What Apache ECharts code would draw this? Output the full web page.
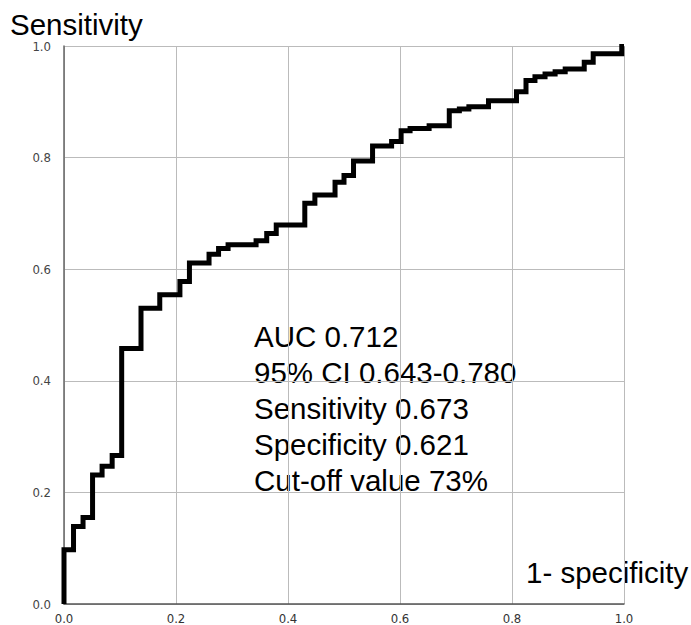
<!DOCTYPE html>
<html><head><meta charset="utf-8">
<script src="https://cdn.jsdelivr.net/npm/echarts@6/dist/echarts.min.js"></script>
<style>html,body{margin:0;padding:0;background:#fff}#c{width:691px;height:625px}</style>
</head><body><div id="c"></div>
<script>
// ROC curve vertices (1 - specificity, sensitivity), drawn as a step line
const fpr = [0, 0, 0.017, 0.034, 0.051, 0.068, 0.086, 0.103, 0.1375, 0.171, 0.207, 0.224, 0.259, 0.276, 0.293,
  0.343, 0.362, 0.379, 0.430, 0.448, 0.484, 0.500, 0.517, 0.551, 0.585, 0.602, 0.618, 0.652, 0.688, 0.706,
  0.723, 0.758, 0.808, 0.825, 0.841, 0.859, 0.877, 0.895, 0.929, 0.945, 0.996, 1.0];
const tpr = [0, 0.097, 0.139, 0.155, 0.231, 0.247, 0.266, 0.458, 0.530, 0.554, 0.578, 0.611, 0.627, 0.637, 0.644,
  0.651, 0.664, 0.679, 0.718, 0.733, 0.756, 0.768, 0.794, 0.821, 0.829, 0.848, 0.852, 0.857, 0.884, 0.887,
  0.891, 0.902, 0.918, 0.938, 0.945, 0.950, 0.954, 0.959, 0.971, 0.986, 0.999, 1.0];
const tickInterval = 0.2;
const yTitle = 'Sensitivity';
const xTitle = '1- specificity';
const annotationLines = ['AUC 0.712', '95% CI 0.643-0.780', 'Sensitivity 0.673', 'Specificity 0.621', 'Cut-off value 73%'];

const points = fpr.map((x, i) => [x, tpr[i]]);
const bigFont = '29.5px "Liberation Sans", Arial, sans-serif';
const tickFont = '"Liberation Sans Narrow", "DejaVu Sans Condensed", sans-serif';

const chart = echarts.init(document.getElementById('c'), null, {renderer: 'svg'});
chart.setOption({
  animation: false,
  backgroundColor: '#ffffff',
  grid: {left: 64, right: 67, top: 46, bottom: 21, outerBoundsMode: 'none', containLabel: false},
  xAxis: {
    type: 'value', min: 0, max: 1, interval: tickInterval,
    axisLine: {show: true, onZero: false, lineStyle: {color: '#555', width: 1.5}},
    axisTick: {show: false},
    axisLabel: {margin: 8, color: '#333', fontSize: 13, fontFamily: tickFont,
      formatter: v => v.toFixed(1)},
    splitLine: {show: true, lineStyle: {color: '#bbbbbb', width: 1}}
  },
  yAxis: {
    type: 'value', min: 0, max: 1, interval: tickInterval,
    axisLine: {show: true, onZero: false, lineStyle: {color: '#666', width: 1.5}},
    axisTick: {show: false},
    axisLabel: {margin: 13, color: '#444', fontSize: 13, lineHeight: 12, fontFamily: tickFont,
      formatter: v => v.toFixed(1)},
    splitLine: {show: true, lineStyle: {color: '#bbbbbb', width: 1}}
  },
  series: [{
    type: 'line',
    data: points,
    step: 'end',
    symbol: 'none',
    clip: false,
    lineStyle: {color: '#000', width: 5, join: 'miter', cap: 'butt'}
  }],
  graphic: [
    {type: 'text', x: 10, y: 14, style: {text: yTitle, font: bigFont, fill: '#000', verticalAlign: 'top', lineHeight: 20}},
    {type: 'text', x: 526, y: 558, style: {text: xTitle, font: bigFont, fill: '#000', verticalAlign: 'top', lineHeight: 29}},
    {type: 'text', x: 254, y: 318, style: {text: annotationLines.join('\n'), font: bigFont, fill: '#000', verticalAlign: 'top', lineHeight: 36}}
  ]
});
</script></body></html>
